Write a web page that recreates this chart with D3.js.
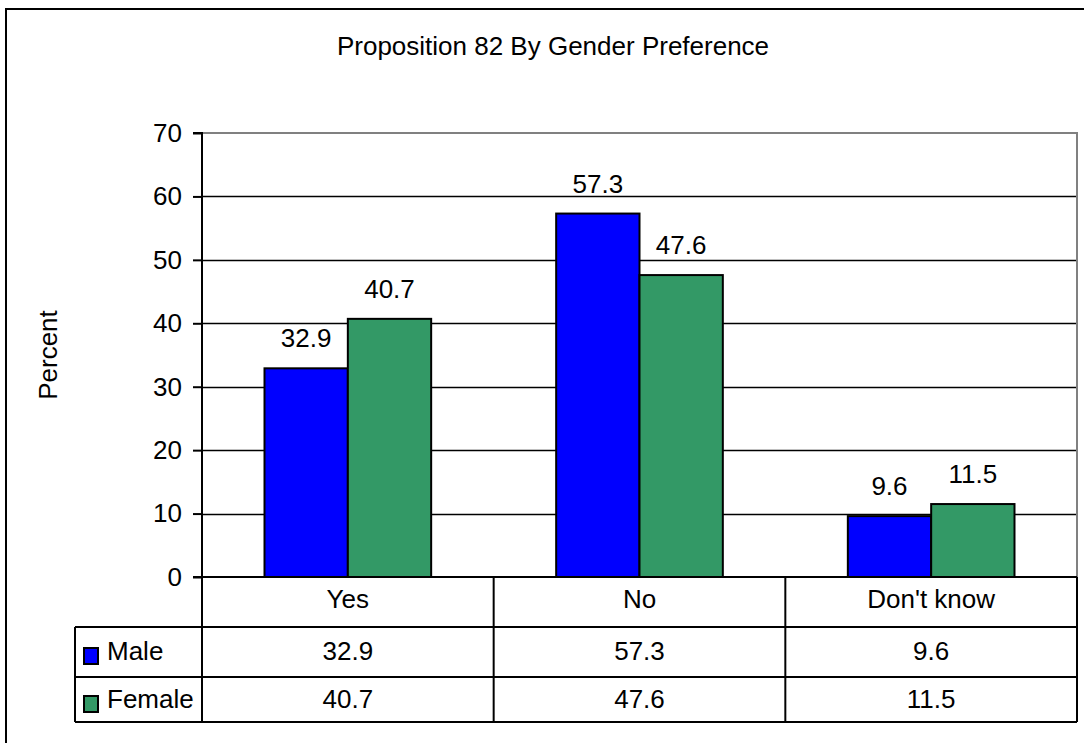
<!DOCTYPE html>
<html>
<head>
<meta charset="utf-8">
<script src="https://cdn.jsdelivr.net/npm/d3@7"></script>
<style>
  html, body { margin: 0; padding: 0; background: #fff; }
  svg { display: block; }
  text { font-family: "Liberation Sans", Arial, sans-serif; fill: #000; }
</style>
</head>
<body>
<svg id="chart" width="1084" height="743"></svg>
<script>
const title = "Proposition 82 By Gender Preference";
const yLabel = "Percent";
const categories = ["Yes", "No", "Don't know"];
const seriesNames = ["Male", "Female"];
const seriesColors = ["#0000FF", "#339966"];
const maleValues = [32.9, 57.3, 9.6];
const femaleValues = [40.7, 47.6, 11.5];
const yTicks = [0, 10, 20, 30, 40, 50, 60, 70];

const seriesValues = [maleValues, femaleValues];
const FS = 26;

const svg = d3.select("#chart");

// outer frame (cropped on right/bottom)
svg.append("rect").attr("x", 6).attr("y", 9).attr("width", 1100).attr("height", 760)
  .attr("fill", "none").attr("stroke", "#000").attr("stroke-width", 2);

const plotLeft = 202, plotRight = 1077, plotTop = 133, plotBottom = 577;
const tableLeft = 75;
const rowLines = [577, 627, 677, 722];

const x0 = d3.scaleBand().domain(categories).range([plotLeft, plotRight]).paddingInner(0).paddingOuter(0);
const x1 = d3.scaleBand().domain(seriesNames).range([0, x0.bandwidth()]).paddingInner(0).paddingOuter(0.75);
const y = d3.scaleLinear().domain([0, 70]).range([plotBottom, plotTop]);

// title
svg.append("text").attr("x", 553).attr("y", 55).attr("text-anchor", "middle")
  .attr("font-size", FS).text(title);

// y label
svg.append("text").attr("transform", `translate(57,${(plotTop + plotBottom) / 2}) rotate(-90)`)
  .attr("text-anchor", "middle").attr("font-size", FS).text(yLabel);

// gridlines
svg.append("g").selectAll("line").data(yTicks.filter(t => t > 0 && t < 70)).join("line")
  .attr("x1", plotLeft).attr("x2", plotRight)
  .attr("y1", d => Math.round(y(d)) + 0.5).attr("y2", d => Math.round(y(d)) + 0.5)
  .attr("stroke", "#000").attr("stroke-width", 1.5);

// plot area border top/right grey
svg.append("path")
  .attr("d", `M${plotLeft},${y(70)}H${plotRight}V${plotBottom}`)
  .attr("fill", "none").attr("stroke", "#808080").attr("stroke-width", 2);

// bars
const groups = svg.append("g").selectAll("g").data(categories).join("g")
  .attr("transform", d => `translate(${x0(d)},0)`);
groups.selectAll("rect").data((c, i) => seriesNames.map((s, j) => ({ s, j, v: seriesValues[j][i] }))).join("rect")
  .attr("x", d => x1(d.s)).attr("width", x1.bandwidth())
  .attr("y", d => y(d.v)).attr("height", d => y(0) - y(d.v))
  .attr("fill", d => seriesColors[d.j]).attr("stroke", "#000").attr("stroke-width", 2);
groups.selectAll("text").data((c, i) => seriesNames.map((s, j) => ({ s, j, v: seriesValues[j][i] }))).join("text")
  .attr("x", d => x1(d.s) + x1.bandwidth() / 2).attr("y", d => y(d.v) - 21)
  .attr("text-anchor", "middle").attr("font-size", FS).text(d => d.v.toFixed(1));

// y axis
const yAxis = d3.axisLeft(y).tickValues(yTicks).tickSize(9).tickPadding(11).tickFormat(d3.format("d"));
const ya = svg.append("g").attr("transform", `translate(${plotLeft},0)`).call(yAxis);
ya.select(".domain").attr("stroke", "#000").attr("stroke-width", 2).attr("d", `M-9,${y(70)}H0V${plotBottom}`);
ya.selectAll(".tick line").attr("stroke", "#000").attr("stroke-width", 2);
ya.selectAll(".tick text").attr("font-size", FS).attr("font-family", "Liberation Sans, Arial, sans-serif").attr("fill", "#000");

// data table
const tbl = svg.append("g").attr("stroke", "#000").attr("stroke-width", 2).attr("fill", "none");
tbl.append("line").attr("x1", plotLeft - 9).attr("x2", plotRight).attr("y1", rowLines[0]).attr("y2", rowLines[0]);
[1, 2, 3].forEach(k => tbl.append("line").attr("x1", tableLeft).attr("x2", plotRight)
  .attr("y1", rowLines[k]).attr("y2", rowLines[k]));
tbl.append("line").attr("x1", tableLeft).attr("x2", tableLeft).attr("y1", rowLines[1]).attr("y2", rowLines[3]);
tbl.append("line").attr("x1", plotLeft).attr("x2", plotLeft).attr("y1", rowLines[0]).attr("y2", rowLines[3]);
categories.forEach(c => {
  tbl.append("line").attr("x1", x0(c) + x0.bandwidth()).attr("x2", x0(c) + x0.bandwidth())
    .attr("y1", rowLines[0]).attr("y2", rowLines[3]);
});

// category labels
svg.append("g").selectAll("text").data(categories).join("text")
  .attr("x", d => x0(d) + x0.bandwidth() / 2).attr("y", 608)
  .attr("text-anchor", "middle").attr("font-size", FS).text(d => d);

// value rows
const rowBaselines = [660, 708];
seriesNames.forEach((s, j) => {
  const cy = rowBaselines[j];
  svg.append("g").selectAll("text").data(categories).join("text")
    .attr("x", d => x0(d) + x0.bandwidth() / 2).attr("y", cy)
    .attr("text-anchor", "middle").attr("font-size", FS)
    .text((d, i) => seriesValues[j][i].toFixed(1));
  svg.append("rect").attr("x", 84).attr("y", cy - 12).attr("width", 14).attr("height", 16)
    .attr("fill", seriesColors[j]).attr("stroke", "#000").attr("stroke-width", 2);
  svg.append("text").attr("x", 107).attr("y", cy).attr("font-size", FS).text(s);
});
</script>
</body>
</html>
